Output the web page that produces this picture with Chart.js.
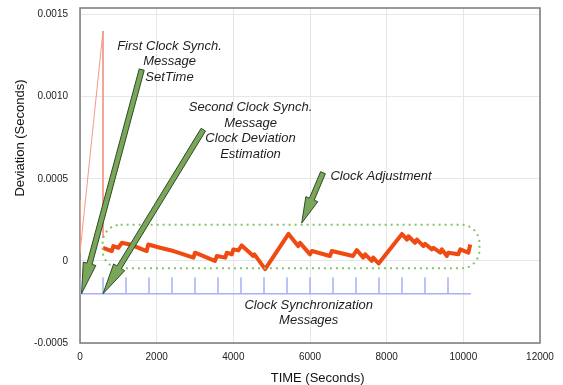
<!DOCTYPE html>
<html>
<head>
<meta charset="utf-8">
<script src="https://cdn.jsdelivr.net/npm/chart.js@4.4.1/dist/chart.umd.min.js"></script>
<style>
  html, body { margin: 0; padding: 0; background: #fff; }
  #wrap { width: 563px; height: 385px; }
</style>
</head>
<body>
<div id="wrap"><canvas id="chart" width="563" height="385"></canvas></div>
<script>
// free running clock before the second sync (time s, deviation s)
const driftTime = [0, 0, 600, 600];
const driftDev = [0.00037, 0.00005, 0.0014, 0.00014];

// deviation after each clock adjustment
const adjTime = [600, 830, 870, 1000, 1090, 1300, 1740, 1780, 2090, 2440, 2960, 3000,
  3520, 3570, 3790, 3830, 3960, 4000, 4130, 4220, 4520, 4550, 4830, 5440, 5690, 5740,
  6000, 6050, 6520, 6570, 7120, 7220, 7390, 7440, 7610, 7650, 7790, 8400, 8530, 8570,
  8740, 8790, 8960, 9000, 9180, 9220, 9400, 9440, 9570, 9610, 9870, 9920, 10130, 10180];
const adjDev = [0.00008, 0.00006, 0.00009, 0.00008, 0.00011, 0.0001, 0.00006, 0.0001,
  0.00008, 0.00006, 0.00002, 0.00005, 0.0, 0.00003, 0.00002, 0.00005, 0.00004, 0.00007,
  0.000064, 0.000094, 0.00003, 0.00004, -0.00005, 0.000164, 0.00009, 0.00011, 0.00004,
  0.00006, 0.00003, 0.00006, 0.00003, 0.000066, 0.00002, 0.00004, 0.0, 0.00002,
  -0.000016, 0.000164, 0.00013, 0.00015, 0.00011, 0.00013, 0.00009, 0.000104, 0.00007,
  0.00008, 0.00005, 0.00007, 0.00003, 0.00005, 0.00004, 0.00007, 0.00005, 0.0001];

// clock synchronization messages
const msgTimes = [0, 600, 1200, 1800, 2400, 3000, 3600, 4200, 4800, 5400, 6000, 6600,
  7200, 7800, 8400, 9000, 9600];
const msgBase = -0.0002;
const msgTop = -0.0001;
const msgEnd = 10200;

const yTicks = [-0.0005, 0, 0.0005, 0.0010, 0.0015];

// annotations (data units)
const notes = [
  { x: 2335, y: 0.001307, lines: ['First Clock Synch.', 'Message', 'SetTime'] },
  { x: 4448, y: 0.000933, lines: ['Second Clock Synch.', 'Message', 'Clock Deviation', 'Estimation'] },
  { x: 7852, y: 0.000512, lines: ['Clock Adjustment'] },
  { x: 5966, y: -0.000268, lines: ['Clock Synchronization', 'Messages'] }
];
const arrows = [
  { from: [1610, 0.001165], to: [40, -0.0002], head: 31 },
  { from: [3217, 0.000799], to: [600, -0.0002], head: 31 },
  { from: [6339, 0.000537], to: [5784, 0.00023], head: 26 }
];
const box = { x1: 590, x2: 10420, y1: 0.00022, y2: -0.000045 };

const pts = (xs, ys) => xs.map((t, i) => ({ x: t, y: ys[i] }));

const msgData = [];
msgTimes.forEach(t => {
  msgData.push({ x: t, y: msgBase }, { x: t, y: msgTop }, { x: t, y: null });
});

function drawArrow(ctx, x0, y0, x1, y1, hl) {
  const dx = x1 - x0, dy = y1 - y0, len = Math.hypot(dx, dy);
  const ux = dx / len, uy = dy / len, nx = -uy, ny = ux;
  const sw = 2.6, hw = 6.5;
  const bx = x1 - ux * hl, by = y1 - uy * hl;
  ctx.beginPath();
  ctx.moveTo(x0 + nx * sw, y0 + ny * sw);
  ctx.lineTo(bx + nx * sw, by + ny * sw);
  ctx.lineTo(bx + nx * hw, by + ny * hw);
  ctx.lineTo(x1, y1);
  ctx.lineTo(bx - nx * hw, by - ny * hw);
  ctx.lineTo(bx - nx * sw, by - ny * sw);
  ctx.lineTo(x0 - nx * sw, y0 - ny * sw);
  ctx.closePath();
  ctx.fillStyle = '#79a65b';
  ctx.fill();
  ctx.lineWidth = 1;
  ctx.strokeStyle = '#2f4a23';
  ctx.stroke();
}

function roundBox(ctx, l, t, r, b, rad) {
  ctx.beginPath();
  ctx.moveTo(l + rad, t);
  ctx.arcTo(r, t, r, b, rad);
  ctx.arcTo(r, b, l, b, rad);
  ctx.arcTo(l, b, l, t, rad);
  ctx.arcTo(l, t, r, t, rad);
  ctx.closePath();
}

const overlay = {
  id: 'overlay',
  beforeDatasetsDraw(chart) {
    const { ctx, chartArea: a } = chart;
    ctx.save();
    ctx.strokeStyle = '#7a7a7a';
    ctx.lineWidth = 1.5;
    ctx.strokeRect(a.left, a.top, a.right - a.left, a.bottom - a.top);
    ctx.restore();
  },
  afterDatasetsDraw(chart) {
    const { ctx, scales: { x, y } } = chart;
    ctx.save();

    // dotted box round the adjusted clock
    ctx.setLineDash([2, 4]);
    ctx.lineWidth = 2;
    ctx.strokeStyle = '#86c266';
    roundBox(ctx, x.getPixelForValue(box.x1), y.getPixelForValue(box.y1),
      x.getPixelForValue(box.x2), y.getPixelForValue(box.y2), 18);
    ctx.stroke();
    ctx.setLineDash([]);

    arrows.forEach(a => {
      drawArrow(ctx, x.getPixelForValue(a.from[0]), y.getPixelForValue(a.from[1]),
        x.getPixelForValue(a.to[0]), y.getPixelForValue(a.to[1]), a.head);
    });

    ctx.fillStyle = '#1e1e1e';
    ctx.font = 'italic 13px "Liberation Sans", Arial, sans-serif';
    ctx.textAlign = 'center';
    ctx.textBaseline = 'middle';
    notes.forEach(n => {
      const px = x.getPixelForValue(n.x), py = y.getPixelForValue(n.y);
      n.lines.forEach((s, i) => ctx.fillText(s, px, py + i * 15.5));
    });

    // axis titles
    ctx.font = '13px "Liberation Sans", Arial, sans-serif';
    ctx.fillStyle = '#111';
    ctx.fillText('TIME (Seconds)', x.getPixelForValue(6200), 378);
    ctx.translate(20, 138);
    ctx.rotate(-Math.PI / 2);
    ctx.fillText('Deviation (Seconds)', 0, 0);
    ctx.restore();
  }
};

const tickFont = { family: '"Liberation Sans", Arial, sans-serif', size: 10 };

new Chart(document.getElementById('chart'), {
  type: 'line',
  data: {
    datasets: [
      {
        label: 'Adjusted clock',
        data: pts(adjTime, adjDev),
        borderColor: '#ee4a12',
        borderWidth: 4,
        borderJoinStyle: 'round',
        pointRadius: 0
      },
      {
        label: 'Free running clock',
        data: pts(driftTime, driftDev),
        borderColor: '#f39a88',
        borderWidth: 1,
        pointRadius: 0
      },
      {
        label: 'Messages',
        data: msgData,
        borderColor: '#a7b1f5',
        borderWidth: 1.5,
        pointRadius: 0,
        spanGaps: false
      },
      {
        label: 'Message line',
        data: [{ x: 0, y: msgBase }, { x: msgEnd, y: msgBase }],
        borderColor: '#a7b1f5',
        borderWidth: 1.5,
        pointRadius: 0
      }
    ]
  },
  options: {
    responsive: false,
    animation: false,
    devicePixelRatio: 1,
    layout: { padding: { top: 8, right: 23, left: 0, bottom: 0 } },
    plugins: { legend: { display: false }, tooltip: { enabled: false } },
    elements: { line: { tension: 0 } },
    scales: {
      x: {
        type: 'linear',
        min: 0,
        max: 12000,
        ticks: {
          stepSize: 2000, padding: 8, color: '#222', font: tickFont, maxRotation: 0,
          callback: v => String(v)
        },
        grid: { color: '#e6e6e6', drawTicks: false },
        border: { display: false },
        afterFit: s => { s.height = 42; s.paddingRight = 0; }
      },
      y: {
        min: -0.0005,
        max: 0.00154,
        afterBuildTicks: s => { s.ticks = yTicks.map(v => ({ value: v })); },
        ticks: {
          padding: 12,
          color: '#222',
          font: tickFont,
          callback: v => (v === 0 ? '0' : v.toFixed(4))
        },
        grid: { color: '#e6e6e6', drawTicks: false },
        border: { display: false },
        afterFit: s => { s.width = 80; s.paddingTop = 0; s.paddingBottom = 0; }
      }
    }
  },
  plugins: [overlay]
});
</script>
</body>
</html>
